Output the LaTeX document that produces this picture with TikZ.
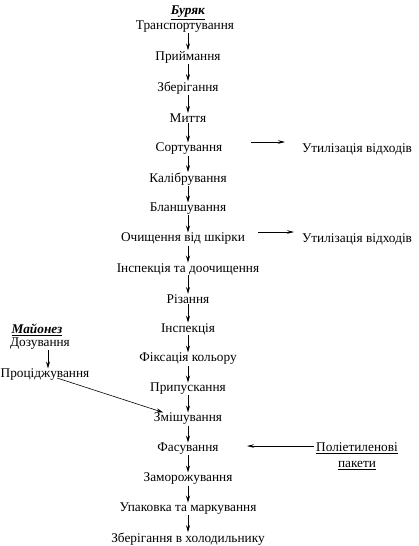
\documentclass[tikz,border=0pt]{standalone}
\usepackage{fontspec}
\setmainfont{Liberation Serif}
\usetikzlibrary{arrows.meta}
\begin{document}
\begin{tikzpicture}[x=1pt,y=-1pt,
  every node/.style={font=\fontsize{13.3pt}{15pt}\selectfont, inner sep=0.5pt},
  flow/.style={-{Stealth[length=7pt,width=4pt,inset=2.5pt]}, line width=0.6pt},
  side/.style={-{Stealth[length=7pt,width=3.5pt,inset=2.5pt]}, line width=0.6pt}]
\useasboundingbox (0,0) rectangle (419,546);
\node (t0) at (188,13) {\underline{\textbf{\textit{Буряк}}}};
\node (a1) at (185,27) {Транспортування};
\node (a2) at (188,57) {Приймання};
\node (a3) at (188,88) {Зберігання};
\node (a4) at (188,118) {Миття};
\node (a5) at (189,149) {Сортування};
\node (u1) at (357,149) {Утилізація відходів};
\node (a6) at (188,179) {Калібрування};
\node (a7) at (188,209) {Бланшування};
\node (a8) at (183,239) {Очищення від шкірки};
\node (u2) at (357,239) {Утилізація відходів};
\node (a9) at (188,269) {Інспекція та доочищення};
\node (a10) at (188,299) {Різання};
\node (a11) at (188,329) {Інспекція};
\node (a12) at (188,359) {Фіксація кольору};
\node (a13) at (188,389) {Припускання};
\node (a14) at (188,419) {Змішування};
\node (a15) at (188,449) {Фасування};
\node (a16) at (188,479) {Заморожування};
\node (a17) at (188,509) {Упаковка та маркування};
\node (a18) at (188,539) {Зберігання в холодильнику};
\node (m0) at (37,330) {\underline{\textbf{\textit{Майонез}}}};
\node (m1) at (40,344) {Дозування};
\node (m2) at (45,375) {Проціджування};
\node[align=center] (p) at (357,456) {\underline{Поліетиленові}\\[1pt]\underline{пакети}};
\foreach \i [evaluate=\i as \j using int(\i+1)] in {1,...,17}
  \draw[flow] (188,0 |- a\i.south) -- (188,0 |- a\j.north);
\draw[flow] (48,0 |- m1.south) -- (48,0 |- m2.north);
\coordinate (s1) at (251,142); \coordinate (e1) at (285,142);
\coordinate (s2) at (258,232); \coordinate (e2) at (294,232);
\coordinate (s4) at (314,446); \coordinate (e4) at (247,446);
\draw[side] (s1) -- (e1);
\draw[side] (s2) -- (e2);
\draw[side] (s4) -- (e4);
\draw[flow] (57,378) -- ([xshift=10pt]a14.north west);
\end{tikzpicture}
\end{document}
